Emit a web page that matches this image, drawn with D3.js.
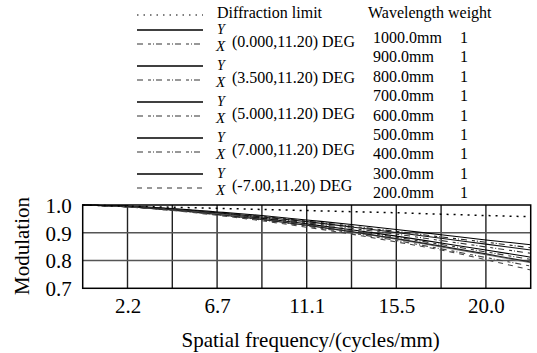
<!DOCTYPE html>
<html><head><meta charset="utf-8">
<script src="https://cdn.jsdelivr.net/npm/d3@7"></script>
<style>
html,body{margin:0;padding:0;background:#fff;}
svg{display:block;font-family:"Liberation Serif","Times New Roman",serif;}
</style></head>
<body>
<svg id="c" width="537" height="353"></svg>
<script>
// ---- data ----
const freqMax = 22.3;
const freqs = [0, 2.23, 4.46, 6.69, 8.92, 11.15, 13.38, 15.61, 17.84, 20.07, 22.3];
const gridFreqs = [2.23, 4.46, 6.69, 8.92, 11.15, 13.38, 15.61, 17.84, 20.07];
const xTickValues = [2.23, 6.69, 11.15, 15.61, 20.07];
const xTickLabels = ["2.2", "6.7", "11.1", "15.5", "20.0"];
const yTickValues = [0.7, 0.8, 0.9, 1.0];
const yTickLabels = ["0.7", "0.8", "0.9", "1.0"];

const diffraction = [1, .996, .992, .988, .984, .980, .976, .972, .967, .962, .958];
const f1Y = [1, .995, .987, .975, .962, .946, .930, .912, .893, .874, .857];
const f1X = [1, .995, .986, .973, .959, .942, .924, .905, .885, .866, .846];
const f2Y = [1, .995, .985, .972, .957, .940, .921, .901, .880, .859, .838];
const f2X = [1, .994, .984, .970, .954, .936, .916, .895, .872, .849, .826];
const f3Y = [1, .994, .983, .969, .952, .932, .911, .888, .863, .838, .812];
const f3X = [1, .994, .983, .968, .950, .930, .908, .884, .858, .831, .804];
const f4Y = [1, .994, .982, .967, .948, .927, .903, .877, .849, .821, .792];
const f4X = [1, .993, .981, .965, .946, .924, .899, .872, .842, .811, .780];
const f5Y = [1, .994, .982, .966, .948, .927, .904, .879, .852, .824, .795];
const f5X = [1, .993, .980, .963, .943, .920, .895, .867, .838, .803, .766];

const fieldLabels = ["(0.000,11.20) DEG", "(3.500,11.20) DEG", "(5.000,11.20) DEG", "(7.000,11.20) DEG", "(-7.00,11.20) DEG"];
const wavelengths = ["1000.0mm", "900.0mm", "800.0mm", "700.0mm", "600.0mm", "500.0mm", "400.0mm", "300.0mm", "200.0mm"];
const weights = [1, 1, 1, 1, 1, 1, 1, 1, 1];

(function () {
// ---- styles ----
const dashDot = "6,5,3,2,1,2";
const series = [
  {v: f1Y, color: "#000", dash: null},
  {v: f1X, color: "#222", dash: dashDot},
  {v: f2Y, color: "#111", dash: null},
  {v: f2X, color: "#333", dash: dashDot},
  {v: f3Y, color: "#000", dash: null},
  {v: f3X, color: "#333", dash: dashDot},
  {v: f4Y, color: "#777", dash: null},
  {v: f4X, color: "#444", dash: dashDot},
  {v: f5Y, color: "#222", dash: null},
  {v: f5X, color: "#444", dash: "5,5"}
];

const svg = d3.select("#c");
const pL = 82.7, pR = 530.7, pT = 205, pB = 288.3;
const x = d3.scaleLinear().domain([0, freqMax]).range([pL, pR]);
const y = d3.scaleLinear().domain([0.7, 1.0]).range([pB, pT]);

// grid
svg.append("g").selectAll("line").data(gridFreqs).join("line")
  .attr("x1", d => x(d)).attr("x2", d => x(d)).attr("y1", pT).attr("y2", pB)
  .attr("stroke", "#222").attr("stroke-width", 1.4);
svg.append("g").selectAll("line").data([0.8, 0.9]).join("line")
  .attr("x1", pL).attr("x2", pR).attr("y1", d => y(d)).attr("y2", d => y(d))
  .attr("stroke", "#555").attr("stroke-width", 1.4);

// curves
const line = d3.line().x((d, i) => x(freqs[i])).y(d => y(d)).curve(d3.curveMonotoneX);
series.forEach(s => {
  svg.append("path").attr("d", line(s.v)).attr("fill", "none")
    .attr("stroke", s.color).attr("stroke-width", 1.1)
    .attr("stroke-dasharray", s.dash);
});
svg.append("path").attr("d", line(diffraction)).attr("fill", "none")
  .attr("stroke", "#000").attr("stroke-width", 1.5).attr("stroke-dasharray", "2,5");

// frame
svg.append("rect").attr("x", pL).attr("y", pT).attr("width", pR - pL).attr("height", pB - pT)
  .attr("fill", "none").attr("stroke", "#000").attr("stroke-width", 1.5);

// axes
const xAxis = d3.axisBottom(x).tickValues(xTickValues).tickSize(0)
  .tickFormat((d, i) => xTickLabels[i]);
const gx = svg.append("g").attr("transform", `translate(0,${pB})`).call(xAxis);
gx.select(".domain").remove();
gx.selectAll("text").attr("font-size", 21).attr("font-family", "Liberation Serif").attr("fill", "#000").attr("dy", "1.05em");

const yAxis = d3.axisLeft(y).tickValues(yTickValues).tickSize(0)
  .tickFormat((d, i) => yTickLabels[i]);
const gy = svg.append("g").attr("transform", `translate(${pL - 8},0)`).call(yAxis);
gy.select(".domain").remove();
gy.selectAll("text").attr("font-size", 21).attr("font-family", "Liberation Serif").attr("fill", "#000").attr("dy", "0.35em");

svg.append("text").attr("x", (pL + pR) / 2 + 4).attr("y", 347).attr("text-anchor", "middle")
  .attr("font-size", 21).text("Spatial frequency/(cycles/mm)");
svg.append("text").attr("transform", "translate(29,246) rotate(-90)").attr("text-anchor", "middle")
  .attr("font-size", 21).text("Modulation");

// legend
const lg = svg.append("g");
lg.append("line").attr("x1", 137).attr("x2", 203).attr("y1", 15).attr("y2", 15)
  .attr("stroke", "#000").attr("stroke-width", 1.2).attr("stroke-dasharray", "1.5,5");
lg.append("text").attr("x", 217).attr("y", 18).attr("font-size", 16).text("Diffraction limit");
fieldLabels.forEach((lab, i) => {
  const s1 = series[2 * i + 1];
  const yy = 30 + 36 * i;
  lg.append("line").attr("x1", 137).attr("x2", 203).attr("y1", yy).attr("y2", yy)
    .attr("stroke", "#000").attr("stroke-width", 1.3);
  lg.append("line").attr("x1", 137).attr("x2", 203).attr("y1", yy + 14).attr("y2", yy + 14)
    .attr("stroke", "#333").attr("stroke-width", 1.1).attr("stroke-dasharray", s1.dash);
  lg.append("text").attr("x", 217).attr("y", yy + 4).attr("font-size", 14).attr("font-style", "italic").text("Y");
  lg.append("text").attr("x", 216).attr("y", yy + 21).attr("font-size", 15).attr("font-style", "italic").text("X");
  lg.append("text").attr("x", 232).attr("y", yy + 17).attr("font-size", 16).text(lab);
});
lg.append("text").attr("x", 368).attr("y", 18).attr("font-size", 16).text("Wavelength weight");
wavelengths.forEach((w, i) => {
  const yy = 43 + 19.4 * i;
  lg.append("text").attr("x", 373).attr("y", yy).attr("font-size", 16).text(w);
  lg.append("text").attr("x", 460).attr("y", yy).attr("font-size", 16).text(weights[i]);
});
})();
</script>
</body></html>
